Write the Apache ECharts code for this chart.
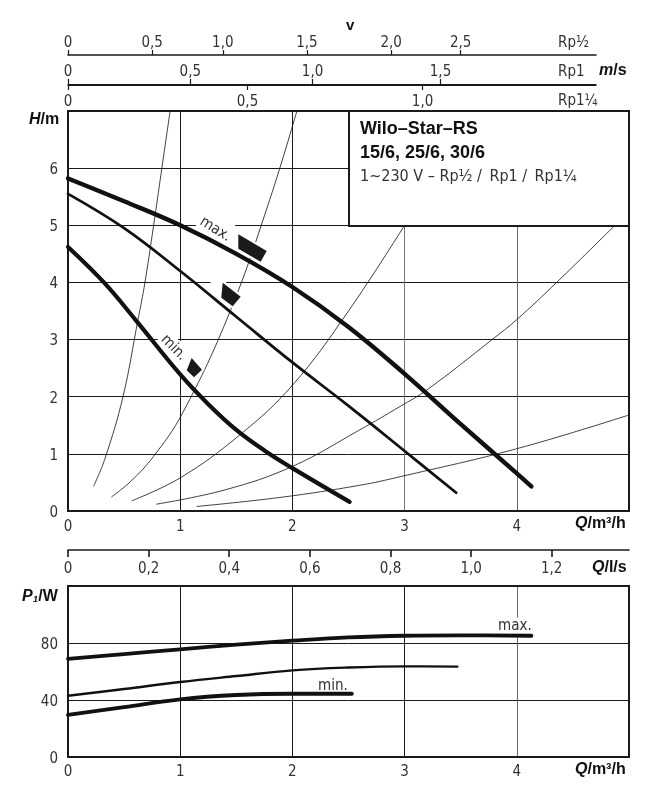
<!DOCTYPE html>
<html lang="en">

<head>
    <meta charset="UTF-8">
    <title>Wilo-Star-RS</title>
    <script src="https://cdnjs.cloudflare.com/ajax/libs/echarts/6.0.0/echarts.min.js"></script>
    <style>
        html, body { margin: 0; padding: 0; background: #fff; }
        #echart { width: 654px; height: 803px; }
    </style>
</head>

<body>
    <div id="echart"></div>

    <script>
        const dom = document.querySelector('#echart')
        const myChart = echarts.init(dom)

        const FONT = '"DejaVu Sans Condensed", "Liberation Sans", sans-serif'
        const BOLD = '"Liberation Sans", sans-serif'
        const INK = '#1a1a1a'

        // H(Q) pump curves, [Q m3/h, H m]
        const hMax = [[0, 5.82], [0.5, 5.42], [1, 5.0], [1.5, 4.5], [2, 3.92], [2.5, 3.22], [3, 2.4], [3.5, 1.52], [4, 0.66], [4.13, 0.43]]
        const hMid = [[0, 5.55], [0.5, 4.95], [1, 4.2], [1.5, 3.4], [2, 2.6], [2.5, 1.84], [3, 1.05], [3.46, 0.32]]
        const hMin = [[0, 4.62], [0.32, 4.0], [0.6, 3.35], [1, 2.39], [1.25, 1.87], [1.5, 1.42], [1.75, 1.06], [2, 0.75], [2.51, 0.16]]

        // system curves
        const sysCurves = [
            [[0.23, 0.44], [0.33, 0.92], [0.49, 2.0], [0.624, 3.35], [0.686, 4], [0.775, 5.16], [0.835, 5.98], [0.91, 7]],
            [[0.39, 0.25], [0.56, 0.52], [0.76, 0.95], [1.02, 1.71], [1.44, 3.47], [1.8, 5.46], [2.04, 7]],
            [[0.57, 0.18], [1, 0.58], [1.53, 1.33], [2, 2.2], [2.5, 3.5], [3, 5]],
            [[0.79, 0.12], [1.4, 0.37], [2, 0.78], [2.6, 1.42], [2.96, 1.83], [3.2, 2.12], [3.78, 3], [4, 3.35], [4.355, 4], [4.875, 5]],
            [[1.15, 0.08], [1.9, 0.24], [2.6, 0.45], [2.96, 0.6], [4, 1.09], [5, 1.68]]
        ]

        // P1(Q) curves, [Q m3/h, P W]
        const pMax = [[0, 68.8], [0.5, 72.2], [1, 75.6], [1.5, 78.9], [2, 81.6], [2.5, 83.9], [3, 85.1], [3.5, 85.4], [4.13, 85.1]]
        const pMid = [[0, 43], [0.5, 47.7], [1, 52.6], [1.5, 56.8], [2, 60.8], [2.5, 62.8], [3, 63.6], [3.47, 63.4]]
        const pMin = [[0, 29.5], [0.5, 35], [1, 40.5], [1.5, 43.5], [2, 44.4], [2.53, 44.4]]

        // black speed markers on the H chart
        const markers = [
            [[1.518, 4.842], [1.771, 4.549], [1.717, 4.363], [1.518, 4.591]],
            [[1.379, 3.995], [1.539, 3.749], [1.468, 3.584], [1.366, 3.732]],
            [[1.102, 2.679], [1.194, 2.474], [1.123, 2.339], [1.058, 2.461]]
        ]

        // white gaps cut in the grid around the labels
        const gaps = [
            [[1.14, 4.96], [1.49, 4.96], [1.49, 5.04], [1.14, 5.04]],
            [[1.27, 3.96], [1.41, 3.96], [1.41, 4.04], [1.27, 4.04]],
            [[0.8, 2.96], [0.98, 2.96], [0.98, 3.04], [0.8, 3.04]],
            [[0.97, 2.35], [1.03, 2.35], [1.03, 2.98], [0.97, 2.98]]
        ]

        // velocity scales, label -> position on the Q axis
        const vHalf = { 0: '0', 0.75: '0,5', 1.38: '1,0', 2.13: '1,5', 2.88: '2,0', 3.5: '2,5' }
        const vOne = { 0: '0', 1.09: '0,5', 2.18: '1,0', 3.32: '1,5' }
        const vOneQuarter = { 0: '0', 1.6: '0,5', 3.16: '1,0' }
        const lsTicks = [0, 0.2, 0.4, 0.6, 0.8, 1.0, 1.2]

        function vAxis(grid, scale, position, lineWidth, margin) {
            const values = Object.keys(scale).map(Number)
            return {
                type: 'value', gridIndex: grid, min: 0, max: 4.706, position: position,
                splitLine: { show: false },
                axisLine: { show: true, onZero: false, lineStyle: { color: INK, width: lineWidth } },
                axisTick: { show: true, length: 5, customValues: values, lineStyle: { color: INK, width: 1.2 } },
                axisLabel: {
                    customValues: values, margin: margin, color: '#333', fontFamily: FONT, fontSize: 15,
                    formatter: v => scale[v]
                }
            }
        }

        function polygons(list, fill, z, xAxisIndex, yAxisIndex, stroke) {
            return {
                type: 'custom', xAxisIndex: xAxisIndex, yAxisIndex: yAxisIndex, z: z, silent: true, animation: false,
                data: list.map((p, i) => [i]),
                renderItem(params, api) {
                    const pts = list[params.dataIndex].map(p => api.coord(p))
                    return {
                        type: 'polygon', shape: { points: pts },
                        style: { fill: fill, stroke: stroke || null, lineWidth: stroke ? 4 : 0 }
                    }
                }
            }
        }

        function curve(data, width, xAxisIndex, yAxisIndex, z) {
            return {
                type: 'line', data: data, xAxisIndex: xAxisIndex, yAxisIndex: yAxisIndex, z: z || 5,
                smooth: 0.4, showSymbol: false, silent: true, animation: false,
                lineStyle: { color: '#111', width: width, cap: 'round', join: 'round' }
            }
        }

        function text(x, y, str, size, extra, rotation) {
            return {
                type: 'text', x: x, y: y, z: 20, silent: true, rotation: rotation || 0,
                style: Object.assign({ text: str, fill: '#333', fontFamily: FONT, fontSize: size }, extra)
            }
        }

        // y labels sit a little under their grid line
        const yLabel = {
            showMaxLabel: false, margin: 10, fontFamily: FONT, fontSize: 15, color: '#333',
            formatter: v => '{a|' + v + '}',
            rich: { a: { fontFamily: FONT, fontSize: 15, color: '#333', padding: [4, 0, 0, 0] } }
        }

        const nameRich = {
            i: { fontFamily: BOLD, fontStyle: 'italic', fontWeight: 'bold', fontSize: 16, fill: '#111' },
            b: { fontFamily: BOLD, fontWeight: 'bold', fontSize: 16, fill: '#111' }
        }

        const option = {
            animation: false,
            grid: [
                { left: 68, width: 561, top: 111, height: 400, show: true, borderColor: INK, borderWidth: 2, z: 1 },
                { left: 68, width: 561, top: 586, height: 171, show: true, borderColor: INK, borderWidth: 2, z: 1 },
                { left: 68, width: 528, top: 55, height: 1 },
                { left: 68, width: 528, top: 84, height: 1 },
                { left: 68, width: 561, top: 549, height: 1 }
            ],
            xAxis: [
                {
                    type: 'value', gridIndex: 0, min: 0, max: 5, interval: 1,
                    axisLine: { show: false }, axisTick: { show: false },
                    axisLabel: { showMaxLabel: false, margin: 9, color: '#333', fontFamily: FONT, fontSize: 15 },
                    splitLine: { lineStyle: { color: [INK, INK, INK, '#777', '#666', INK], width: 1 } }
                },
                {
                    type: 'value', gridIndex: 1, min: 0, max: 5, interval: 1,
                    axisLine: { show: false }, axisTick: { show: false },
                    axisLabel: { showMaxLabel: false, margin: 8, color: '#333', fontFamily: FONT, fontSize: 15 },
                    splitLine: { lineStyle: { color: [INK, INK, INK, INK, '#666', INK], width: 1 } }
                },
                vAxis(2, vHalf, 'top', 1.6, 4),
                vAxis(3, vOne, 'top', 1.2, 4),
                vAxis(3, vOneQuarter, 'bottom', 1.2, 10),
                {
                    type: 'value', gridIndex: 4, min: 0, max: 1.3917, position: 'bottom',
                    splitLine: { show: false },
                    axisLine: { show: true, onZero: false, lineStyle: { color: INK, width: 1.6 } },
                    axisTick: { show: true, length: 7, customValues: lsTicks, lineStyle: { color: INK, width: 1.6 } },
                    axisLabel: {
                        customValues: lsTicks, margin: 12, color: '#333', fontFamily: FONT, fontSize: 15,
                        formatter: v => String(v === 0 ? 0 : v.toFixed(1)).replace('.', ',')
                    }
                }
            ],
            yAxis: [
                {
                    type: 'value', gridIndex: 0, min: 0, max: 7, interval: 1,
                    axisLine: { show: false }, axisTick: { show: false },
                    axisLabel: yLabel,
                    splitLine: { lineStyle: { color: INK, width: 1 } }
                },
                {
                    type: 'value', gridIndex: 1, min: 0, max: 120, interval: 40,
                    axisLine: { show: false }, axisTick: { show: false },
                    axisLabel: yLabel,
                    splitLine: { lineStyle: { color: INK, width: 1 } }
                },
                { type: 'value', gridIndex: 2, show: false },
                { type: 'value', gridIndex: 3, show: false },
                { type: 'value', gridIndex: 4, show: false }
            ],
            series: [
                polygons(gaps, '#fff', 2, 0, 0),
                polygons([[[3.9, 85], [4.1, 85], [4.1, 98], [3.9, 98]]], '#fff', 2, 1, 1),
                ...sysCurves.map(c => curve(c, 0.8, 0, 0, 3)),
                polygons(markers, '#fff', 3.5, 0, 0, '#fff'),
                polygons(markers, '#1a1a1a', 4, 0, 0),
                curve(hMax, 4.4, 0, 0),
                curve(hMid, 2.8, 0, 0),
                curve(hMin, 4.2, 0, 0),
                // title box sits on top of the curves
                polygons([[[2.5, 5], [5, 5], [5, 7], [2.5, 7]]], '#fff', 6, 0, 0),
                curve(pMax, 3.8, 1, 1),
                curve(pMid, 2.4, 1, 1),
                curve(pMin, 3.8, 1, 1)
            ],
            graphic: [
                { type: 'rect', z: 15, silent: true, shape: { x: 349, y: 111, width: 280, height: 115 }, style: { fill: 'none', stroke: INK, lineWidth: 2 } },
                text(360, 120, 'Wilo–Star–RS', 18, { fontFamily: BOLD, fontWeight: 'bold', fill: '#111' }),
                text(360, 144, '15/6, 25/6, 30/6', 18, { fontFamily: BOLD, fontWeight: 'bold', fill: '#111' }),
                text(360, 169, '1~230 V – Rp½ /\u2009 Rp1 /\u2009 Rp1¼', 16),
                text(346, 18, 'v', 15, { fontFamily: BOLD, fontWeight: 'bold', fill: '#111' }),
                text(558, 36, 'Rp½', 15),
                text(558, 65, 'Rp1', 15),
                text(558, 94, 'Rp1¼', 15),
                text(599, 63, '{i|m}{b|/s}', 16, { rich: nameRich }),
                text(29, 112, '{i|H}{b|/m}', 16, { rich: nameRich }),
                text(575, 516, '{i|Q}{b|/m³/h}', 16, { rich: nameRich }),
                text(592, 560, '{i|Q}{b|/l/s}', 16, { rich: nameRich }),
                text(22, 589, '{i|P₁}{b|/W}', 16, { rich: nameRich }),
                text(575, 762, '{i|Q}{b|/m³/h}', 16, { rich: nameRich }),
                text(205, 214, 'max.', 15, {}, -0.56),
                text(168.5, 332, 'min.', 15, {}, -0.79),
                text(498, 619, 'max.', 15),
                text(318, 679, 'min.', 15)
            ]
        }
        myChart.setOption(option)
    </script>
</body>

</html>
